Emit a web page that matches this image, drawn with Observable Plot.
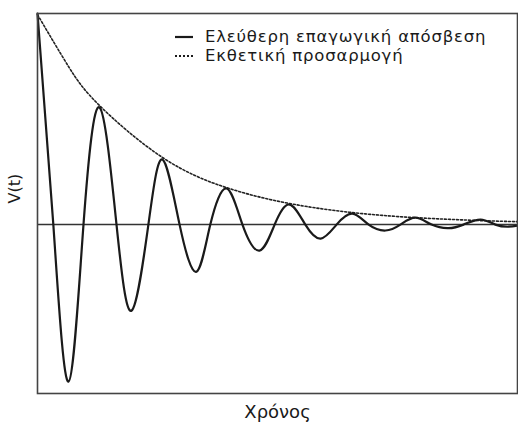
<!DOCTYPE html>
<html>
<head>
<meta charset="utf-8">
<script src="https://cdn.jsdelivr.net/npm/d3@7"></script>
<script src="https://cdn.jsdelivr.net/npm/@observablehq/plot@0.6"></script>
<style>
  html, body { margin: 0; padding: 0; background: #fff; }
  #wrap { position: relative; width: 518px; height: 428px; }
  .leg { position: absolute; left: 175px; font-family: "DejaVu Sans", sans-serif; font-size: 16.5px; letter-spacing: 0.8px; color: #1a1a1a; display: flex; align-items: center; white-space: nowrap; }
  .leg svg { margin-right: 12px; }
</style>
</head>
<body>
<div id="wrap"></div>
<script>
// Time (arbitrary units) and signal values
const waveT = [0, 3.3, 6.46, 9.58, 12.92, 16.46, 19.58, 23.1, 26.04, 29.6, 33.1, 36.0, 39.4, 42.7, 46.25, 49.4, 52.5, 55.8, 59.0, 62.3, 65.6, 69.0, 72.5, 75.6, 78.75, 82.1, 85.6, 88.75, 92.3, 95.4, 98.1, 100];
const waveV = [1.0, 0, -0.744, 0, 0.555, 0, -0.408, 0, 0.308, 0, -0.223, 0, 0.171, 0, -0.123, 0, 0.095, 0, -0.066, 0, 0.052, 0, -0.028, 0, 0.033, 0, -0.017, 0, 0.024, 0, -0.01, -0.005];

const fitT = [0, 6.46, 12.92, 26.04, 39.4, 52.5, 65.6, 78.75, 92.3, 100];
const fitV = [0.995, 0.749, 0.564, 0.318, 0.175, 0.10, 0.057, 0.033, 0.019, 0.014];

const legendLabels = ["Ελεύθερη επαγωγική απόσβεση", "Εκθετική προσαρμογή"];
const xLabel = "Χρόνος";
const yLabel = "V(t)";

const wave = waveT.map((t, i) => ({t, v: waveV[i]}));
const fit = fitT.map((t, i) => ({t, v: fitV[i]}));

const chart = Plot.plot({
  width: 518,
  height: 428,
  marginLeft: 37,
  marginTop: 13,
  marginRight: 1,
  marginBottom: 35,
  style: {fontFamily: "'DejaVu Sans', sans-serif", background: "#fff"},
  x: {domain: [0, 100], axis: null},
  y: {domain: [-0.8, 1.0], axis: null},
  marks: [
    Plot.ruleY([0], {stroke: "#333", strokeWidth: 1.5}),
    Plot.line(fit, {x: "t", y: "v", curve: "natural", stroke: "#222", strokeWidth: 1.6, strokeDasharray: "2,2"}),
    Plot.line(wave, {x: "t", y: "v", curve: "natural", stroke: "#1a1a1a", strokeWidth: 2.2}),
    Plot.frame({stroke: "#444", strokeWidth: 1.6}),
    Plot.text([yLabel], {frameAnchor: "left", dx: -23, rotate: -90, fontSize: 16, fill: "#1a1a1a"}),
    Plot.text([xLabel], {frameAnchor: "bottom", dy: 24, fontSize: 18, fill: "#1a1a1a", style: "letter-spacing: 1px"})
  ]
});
const wrap = document.getElementById("wrap");
wrap.appendChild(chart);

const styles = [null, "2,2"];
const tops = [27, 46];
legendLabels.forEach((lab, i) => {
  const d = document.createElement("div");
  d.className = "leg";
  d.style.top = tops[i] + "px";
  const dash = styles[i] ? `stroke-dasharray="${styles[i]}"` : "";
  d.innerHTML = `<svg width="18" height="6"><line x1="0" x2="18" y1="3" y2="3" stroke="#1a1a1a" stroke-width="${styles[i] ? 1.8 : 2.2}" ${dash}/></svg><span>${lab}</span>`;
  wrap.appendChild(d);
});
</script>
</body>
</html>
